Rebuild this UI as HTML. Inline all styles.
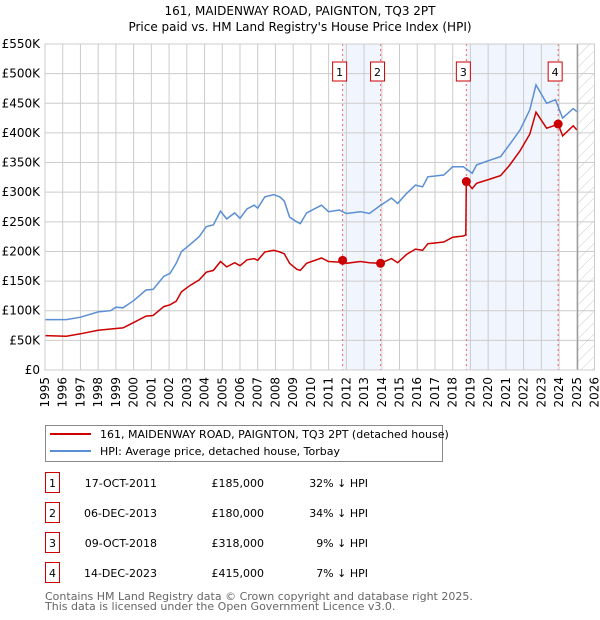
<!DOCTYPE html>
<html><head><meta charset="utf-8"><style>
body{margin:0;background:#fff;font-family:"Liberation Sans","DejaVu Sans",sans-serif;}
#wrap{position:relative;width:600px;height:620px;overflow:hidden}
svg text{font-family:"DejaVu Sans","Liberation Sans",sans-serif}
</style></head><body>
<div id="wrap">
<svg id="chart" width="600" height="620"></svg>
</div>
<script>
const hpiYears=[1995,1996.2,1997,1998,1998.7,1999,1999.4,2000,2000.7,2001.1,2001.7,2002.05,2002.4,2002.7,2003.2,2003.7,2004.1,2004.5,2004.9,2005.25,2005.7,2006,2006.4,2006.8,2007,2007.4,2007.9,2008.25,2008.5,2008.8,2009.2,2009.4,2009.76,2010.6,2011,2011.6,2012,2012.8,2013.3,2013.9,2014.55,2014.9,2015.4,2015.9,2016.3,2016.6,2017.5,2018,2018.6,2019.1,2019.35,2020.1,2020.7,2021.2,2021.8,2022.35,2022.7,2023.3,2023.8,2024.2,2024.8,2025];
const hpiValues=[85,85,89,98,100,106,105,117,135,136,158,163,180,200,212,225,242,245,268,255,265,256,272,278,273,292,296,292,285,258,250,247,265,278,267,270,264,267,264,277,290,281,298,312,309,326,329,343,343,332,346,354,360,380,405,439,481,450,456,425,441,436];
const priceYears=[1995,1996.2,1997,1998,1999,1999.4,2000,2000.7,2001.1,2001.7,2002.05,2002.4,2002.7,2003.2,2003.7,2004.1,2004.5,2004.9,2005.25,2005.7,2006,2006.4,2006.8,2007,2007.4,2007.9,2008.25,2008.5,2008.8,2009.2,2009.4,2009.76,2010.6,2011,2011.6,2011.79,2012,2012.8,2013.3,2013.93,2014.55,2014.9,2015.4,2015.9,2016.3,2016.6,2017.5,2018,2018.6,2018.74,2018.77,2019.1,2019.35,2020.1,2020.7,2021.2,2021.8,2022.35,2022.7,2023.3,2023.8,2023.95,2024.2,2024.8,2025];
const priceValues=[58,57,61,67,70,71,80,91,92,107,110,116,132,143,152,165,168,183,174,181,176,186,188,185,199,202,199,196,180,170,168,180,189,183,182,185,180,183,181,180,188,181,195,204,202,213,216,224,226,228,318,306,315,322,328,345,370,398,435,408,413,415,395,412,405];
const saleYears=[2011.79,2013.93,2018.77,2023.95];
const saleValues=[185,180,318,415];
const saleLabels=["1","2","3","4"];
const yTicks=[0,50,100,150,200,250,300,350,400,450,500,550];
const yTickLabels=["£0","£50K","£100K","£150K","£200K","£250K","£300K","£350K","£400K","£450K","£500K","£550K"];
const xTicks=[];for(let y=1995;y<=2026;y++)xTicks.push(y);

const NS="http://www.w3.org/2000/svg";
const svg=document.getElementById('chart');
const L=45,R=594.5,T=44,B=370;
const X=y=>L+(y-1995)*(R-L)/31;
const Y=v=>B-v*(B-T)/550;
function el(tag,attrs,parent){const e=document.createElementNS(NS,tag);for(const k in attrs)e.setAttribute(k,attrs[k]);(parent||svg).appendChild(e);return e;}

let t=el('text',{x:300,y:15,'text-anchor':'middle','font-size':12,fill:'#000'});t.textContent="161, MAIDENWAY ROAD, PAIGNTON, TQ3 2PT";


t=el('text',{x:300,y:31,'text-anchor':'middle','font-size':12,fill:'#000'});t.textContent="Price paid vs. HM Land Registry's House Price Index (HPI)";



// shading
const sh=[[0,1],[2,3]];
sh.forEach((p,i)=>{const r=el('rect',{x:X(saleYears[p[0]]),y:T,width:X(saleYears[p[1]])-X(saleYears[p[0]]),height:B-T,fill:'#eef3fc',opacity:0.8});

});
// hatch
const defs=el('defs',{});
const pat=el('pattern',{id:'h',width:8,height:8,patternUnits:'userSpaceOnUse',patternTransform:'rotate(45)'},defs);
el('line',{x1:0,y1:0,x2:0,y2:8,stroke:'#ccc','stroke-width':1},pat);
const hx=X(2025.05);
let hr=el('rect',{x:hx,y:T,width:R-hx,height:B-T,fill:'url(#h)'});



// grid
yTicks.forEach((v,i)=>{const g=el('line',{x1:L,x2:R,y1:Y(v),y2:Y(v),stroke:'#ccc','stroke-width':1});


const tx=el('text',{x:L-5,y:Y(v)+4,'text-anchor':'end','font-size':12,fill:'#000'});tx.textContent=yTickLabels[i];

});
xTicks.forEach(y=>{const g=el('line',{x1:X(y),x2:X(y),y1:T,y2:B,stroke:'#ccc','stroke-width':1});


const tx=el('text',{x:0,y:0,'text-anchor':'end','font-size':12,fill:'#000',transform:`translate(${X(y)+4},${B+7}) rotate(-90)`});tx.textContent=y;

});
let vl=el('line',{x1:hx,x2:hx,y1:T,y2:B,stroke:'#999','stroke-width':1.2});



// sale lines
saleYears.forEach((y,i)=>{const l=el('line',{x1:X(y),x2:X(y),y1:T,y2:B,stroke:'#e66','stroke-width':1,'stroke-dasharray':'2,3'});


const bx=X(y)-10;
const b=el('rect',{x:bx,y:62,width:14,height:19,fill:'#fff',stroke:'#c00','stroke-width':1});


const tx=el('text',{x:bx+7,y:76,'text-anchor':'middle','font-size':11,fill:'#000'});tx.textContent=saleLabels[i];

});

function pts(xs,vs){return xs.map((y,i)=>X(y).toFixed(1)+','+Y(vs[i]).toFixed(1)).join(' ');}
let hp=el('polyline',{points:pts(hpiYears,hpiValues),fill:'none',stroke:'#5b8fd4','stroke-width':1.5});


let pp=el('polyline',{points:pts(priceYears,priceValues),fill:'none',stroke:'#cc0000','stroke-width':1.5});


saleYears.forEach((y,i)=>{const c=el('circle',{cx:X(y),cy:Y(saleValues[i]),r:4.5,fill:'#cc0000'});

});
el('rect',{x:L,y:T,width:R-L,height:B-T,fill:'none',stroke:'#ccc','stroke-width':1});

// legend
const lg=el('g',{});


el('rect',{x:45.5,y:425.5,width:397,height:36,fill:'#fff',stroke:'#888','stroke-width':1},lg);
el('line',{x1:50,x2:91,y1:434,y2:434,stroke:'#cc0000','stroke-width':2},lg);
el('line',{x1:50,x2:91,y1:451,y2:451,stroke:'#5b8fd4','stroke-width':2},lg);
t=el('text',{x:100,y:438,'font-size':11,fill:'#000'},lg);t.textContent="161, MAIDENWAY ROAD, PAIGNTON, TQ3 2PT (detached house)";


t=el('text',{x:100,y:455,'font-size':11,fill:'#000'},lg);t.textContent="HPI: Average price, detached house, Torbay";



// table
const dates=["17-OCT-2011","06-DEC-2013","09-OCT-2018","14-DEC-2023"];
const prices=["£185,000","£180,000","£318,000","£415,000"];
const diffs=["32% ↓ HPI","34% ↓ HPI","9% ↓ HPI","7% ↓ HPI"];
dates.forEach((d,i)=>{const cy=483+i*30;
const b=el('rect',{x:45.5,y:cy-10.5,width:14,height:20,fill:'#fff',stroke:'#c00','stroke-width':1});


let tx=el('text',{x:52.5,y:cy+4,'text-anchor':'middle','font-size':11,fill:'#000'});tx.textContent=saleLabels[i];


tx=el('text',{x:157,y:cy+4,'text-anchor':'end','font-size':11,fill:'#000'});tx.textContent=d;


tx=el('text',{x:264,y:cy+4,'text-anchor':'end','font-size':11,fill:'#000'});tx.textContent=prices[i];


tx=el('text',{x:368,y:cy+4,'text-anchor':'end','font-size':11,fill:'#000'});tx.textContent=diffs[i];

});
t=el('text',{x:45,y:600,'font-size':11,fill:'#666'});t.textContent="Contains HM Land Registry data © Crown copyright and database right 2025.";


t=el('text',{x:45,y:610,'font-size':11,fill:'#666'});t.textContent="This data is licensed under the Open Government Licence v3.0.";


</script>
</body></html>
